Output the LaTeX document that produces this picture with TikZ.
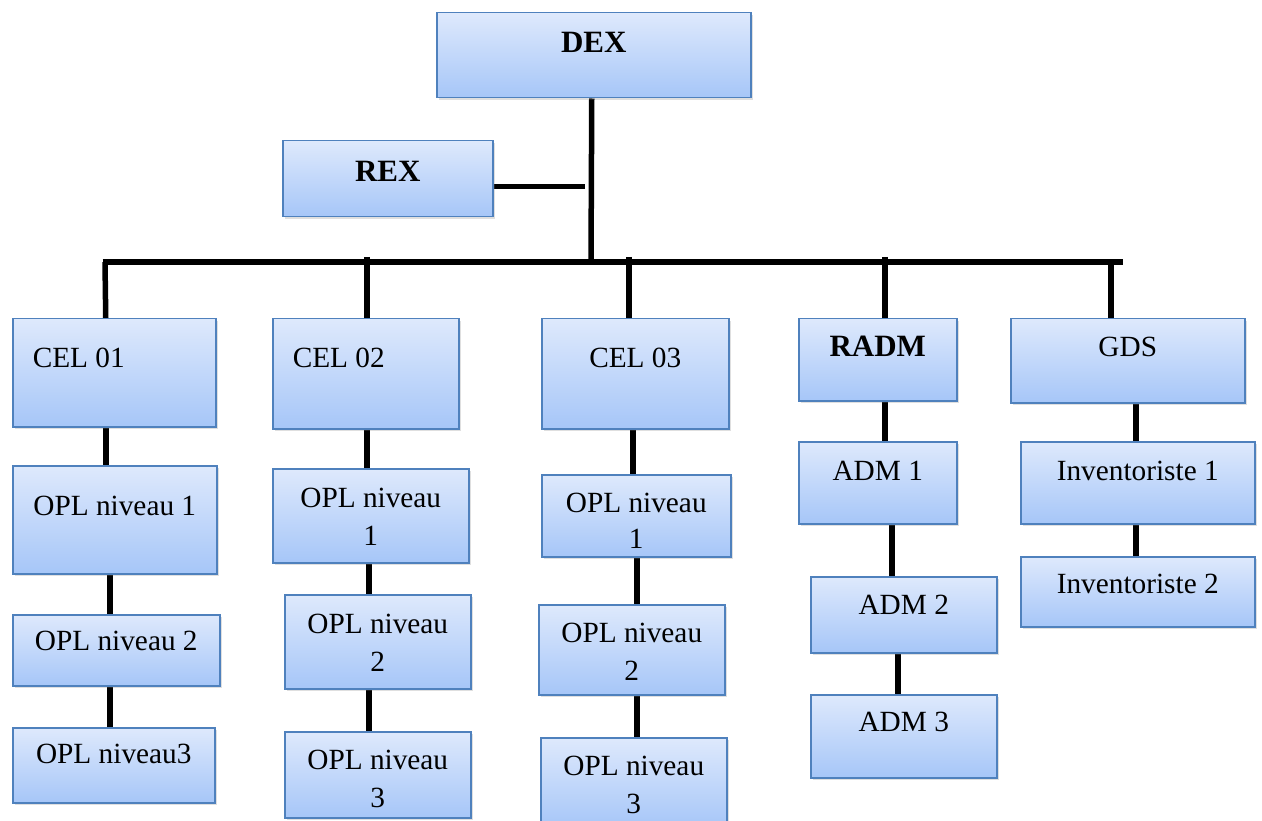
\documentclass[tikz,border=0pt]{standalone}
\usepackage{fontspec}
\setmainfont{Liberation Serif}
\usetikzlibrary{shadows,backgrounds}
\definecolor{boxtop}{RGB}{222,233,252}
\definecolor{boxbot}{RGB}{166,198,248}
\definecolor{boxline}{RGB}{79,129,189}
\begin{document}
\begin{tikzpicture}[x=1pt,y=-1pt,
  box/.style={draw=boxline, line width=1.5pt, top color=boxtop, bottom color=boxbot,
    anchor=north west, inner ysep=0pt, inner xsep=0pt, align=center,
    font=\fontsize{29.3}{38}\selectfont,
    drop shadow={shadow xshift=2pt, shadow yshift=-2pt, opacity=0.25}},
  bbox/.style={box, font=\fontsize{31}{38}\selectfont\bfseries},
  lbox/.style={box, align=flush left, inner xsep=20pt},
  link/.style={line width=5.5pt, black}]
\useasboundingbox (0,0) rectangle (1262,821);

% top
\node[bbox, minimum width=314, text height=40, text depth=45] (dex) at (436,12) {DEX};
\node[bbox, minimum width=210, text height=41, text depth=35] (rex) at (282,140) {REX};

% column 1
\node[lbox, text width=163, text height=49, text depth=59] (cel1) at (12,318) {CEL 01};
\node[box, minimum width=204, text height=50, text depth=58] (o11) at (12,465) {OPL niveau 1};
\node[box, minimum width=207, text height=36, text depth=35] (o12) at (12,614) {OPL niveau 2};
\node[box, minimum width=202, text height=36, text depth=39] (o13) at (12,727) {OPL niveau3};

% column 2
\node[lbox, text width=146, text height=49, text depth=61] (cel2) at (272,318) {CEL 02};
\node[box, minimum width=196, text height=77, text depth=17] (o21) at (272,468) {OPL niveau\\1};
\node[box, minimum width=186, text height=77, text depth=17] (o22) at (284,594) {OPL niveau\\2};
\node[box, minimum width=186, text height=76, text depth=10] (o23) at (284,731) {OPL niveau\\3};

% column 3
\node[box, minimum width=187, text height=49, text depth=61] (cel3) at (541,318) {CEL 03};
\node[box, minimum width=189, text height=74, text depth=8, font=\fontsize{29.3}{36}\selectfont] (o31) at (541,474) {OPL niveau\\1};
\node[box, minimum width=186, text height=76, text depth=14] (o32) at (538,604) {OPL niveau\\2};
\node[box, minimum width=186, text height=76, text depth=14] (o33) at (540,737) {OPL niveau\\3};

% column 4
\node[bbox, minimum width=158, text height=38, text depth=44] (radm) at (798,318) {RADM};
\node[box, minimum width=158, text height=39, text depth=43] (adm1) at (798,441) {ADM 1};
\node[box, minimum width=186, text height=38, text depth=38] (adm2) at (810,576) {ADM 2};
\node[box, minimum width=186, text height=37, text depth=46] (adm3) at (810,694) {ADM 3};

% column 5
\node[box, minimum width=234, text height=38, text depth=46] (gds) at (1010,318) {GDS};
\node[box, minimum width=234, text height=39, text depth=43] (inv1) at (1020,441) {Inventoriste 1};
\node[box, minimum width=234, text height=37, text depth=33] (inv2) at (1020,556) {Inventoriste 2};

\begin{scope}[on background layer]
% bus
\coordinate (busl) at (105,262);
\coordinate (busr) at (1120,262);
\coordinate (trunk) at (591,262);
\draw[link] ([xshift=-2]dex.south) -- (trunk);
\draw[link] ([yshift=-8]rex.east) -- ([yshift=-8,xshift=-6]rex.east -| trunk);
\draw[link] ([xshift=-2.5]busl) -- ([xshift=2.5]busr);

% drops
\draw[link] (busl) -- ([xshift=-8.5]cel1.north);
\draw[link] ([yshift=5]trunk -| cel2.north) ++(1,0) -- ([xshift=1]cel2.north);
\draw[link] ([yshift=5]trunk -| cel3.north) ++(-6.5,0) -- ([xshift=-6.5,yshift=-8]cel3.north);
\draw[link] ([yshift=5]trunk -| radm.north) ++(7,0) -- ([xshift=7]radm.north);
\draw[link] ([xshift=-9]busr) -- ([xshift=-9,yshift=-8]busr |- gds.north);

% column links
\draw[link] ([xshift=-8.5]cel1.south) -- ([xshift=-8.5]cel1.south |- o11.north);
\draw[link] ([xshift=-5]o11.south) -- ([xshift=-5]o11.south |- o12.north);
\draw[link] ([xshift=-6.5]o12.south) -- ([xshift=-6.5]o12.south |- o13.north);

\draw[link] ([xshift=1]cel2.south) -- ([xshift=1]cel2.south |- o21.north);
\draw[link] ([xshift=-2]o21.south) -- ([xshift=-2]o21.south |- o22.north);
\draw[link] ([xshift=-9]o22.south) -- ([xshift=-9]o22.south |- o23.north);

\draw[link] ([xshift=-2.5]cel3.south) -- ([xshift=-2.5,yshift=-6]cel3.south |- o31.north);
\draw[link] ([xshift=0.5]o31.south) -- ([xshift=0.5]o31.south |- o32.north);
\draw[link] ([xshift=5]o32.south) -- ([xshift=5]o32.south |- o33.north);

\draw[link] ([xshift=7]radm.south) -- ([xshift=7]radm.south |- adm1.north);
\draw[link] ([xshift=-12]adm2.north |- adm1.south) -- ([xshift=-12,yshift=-8]adm2.north);
\draw[link] ([xshift=-6]adm2.south) -- ([xshift=-6,yshift=-6]adm2.south |- adm3.north);

\draw[link] ([xshift=8]gds.south) -- ([xshift=8]gds.south |- inv1.north);
\draw[link] ([xshift=-2]inv1.south) -- ([xshift=-2]inv1.south |- inv2.north);
\end{scope}
\end{tikzpicture}
\end{document}
